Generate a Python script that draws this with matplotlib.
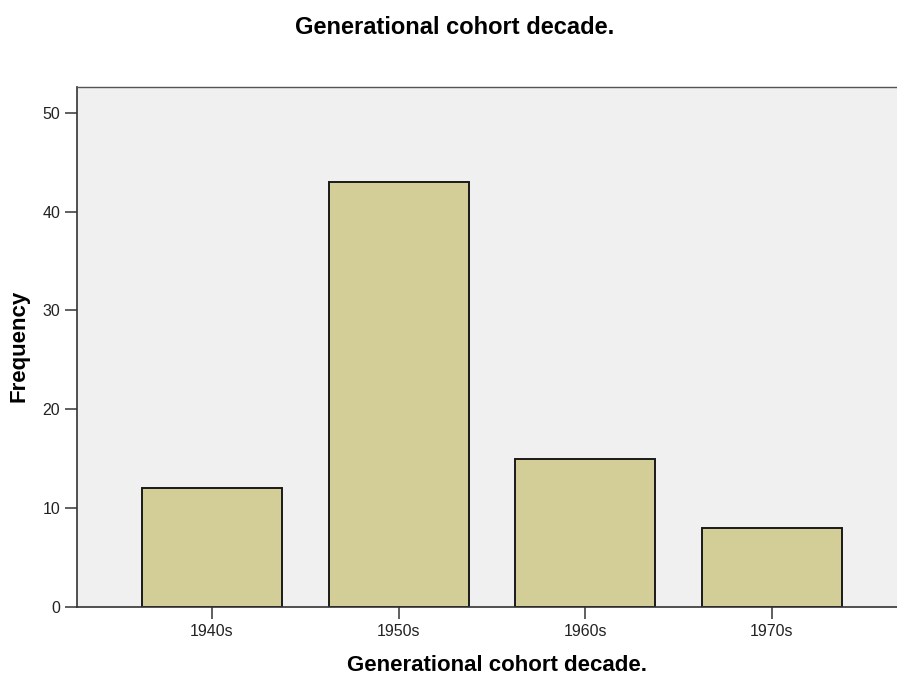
import matplotlib.pyplot as plt
import numpy as np

plt.rcParams['font.family'] = ['Liberation Sans', 'DejaVu Sans']

categories = ['1940s', '1950s', '1960s', '1970s']
frequencies = [12, 43, 15, 8]
y_ticks = [0, 10, 20, 30, 40, 50]

fig = plt.figure(figsize=(8.97, 6.74), dpi=100)
ax = fig.add_axes([0.0858, 0.0994, 0.9142, 0.7715])
ax.set_facecolor('#F0F0F0')

x = np.arange(len(categories))
ax.bar(x, frequencies, width=0.75, color='#D3CE98', edgecolor='#1a1a1a', linewidth=1.4, zorder=2)

ax.set_xlim(-0.723, 3.67)
ax.set_ylim(0, 52.6)
ax.set_xticks(x)
ax.set_xticklabels(categories, fontsize=11.5, color='#222222')
ax.set_yticks(y_ticks)
ax.set_yticklabels([str(v) for v in y_ticks], fontsize=11.5, color='#222222')
ax.tick_params(axis='both', length=8.5, width=1.2, color='#444444', pad=3.5)

ax.spines['right'].set_visible(False)
for side in ['left', 'bottom']:
    ax.spines[side].set_linewidth(1.2)
    ax.spines[side].set_color('#333333')
ax.spines['top'].set_color('#555555')
ax.spines['top'].set_linewidth(1.0)

ax.set_ylabel('Frequency', fontsize=16, fontweight='bold')
ax.yaxis.set_label_coords(-0.0707, 0.502)
ax.yaxis.label.set_va('center')
ax.set_xlabel('Generational cohort decade.', fontsize=16, fontweight='bold')
ax.xaxis.set_label_coords(0.512, -0.112)
ax.xaxis.label.set_va('center')
fig.text(0.507, 0.959, 'Generational cohort decade.', fontsize=17, fontweight='bold',
         ha='center', va='center')

fig.savefig('out.png', dpi=100)
